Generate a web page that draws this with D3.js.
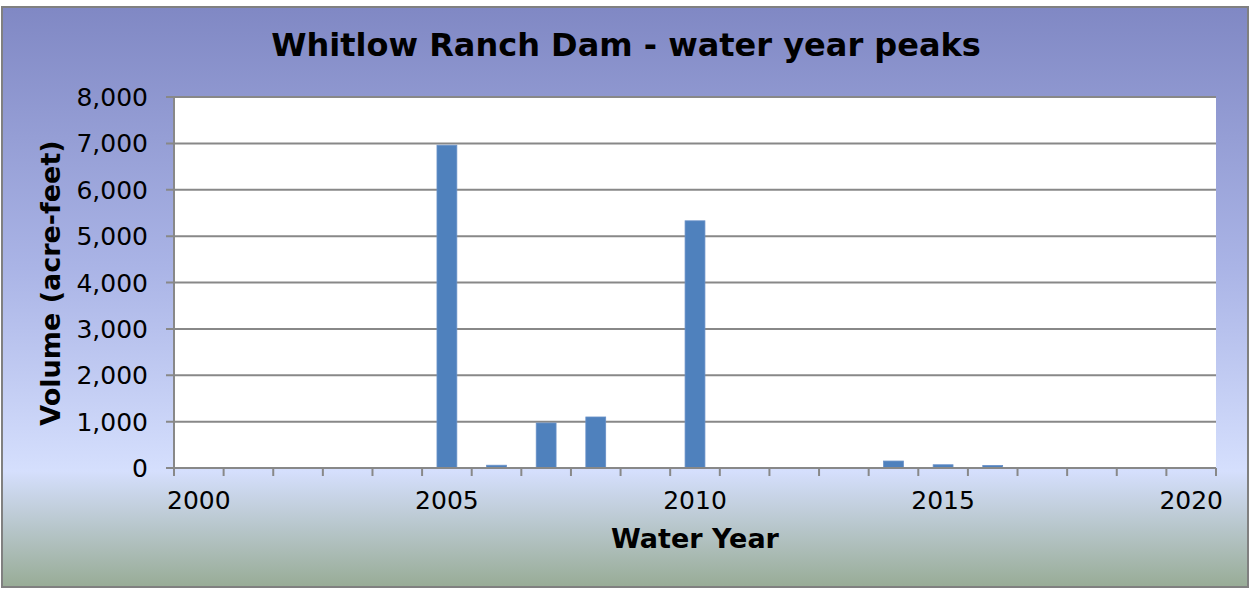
<!DOCTYPE html>
<html>
<head>
<meta charset="utf-8">
<script src="https://cdn.jsdelivr.net/npm/d3@7"></script>
<style>
  body { margin: 0; background: #fff; }
  svg text { font-family: "DejaVu Sans", sans-serif; fill: #000; }
</style>
</head>
<body>
<div id="chart"></div>
<script>
// water years and their peak volumes (acre-feet)
const years = d3.range(2000, 2021);
const peaks = [0, 0, 0, 0, 0, 6960, 60, 970, 1100, 0, 5330, 0, 0, 0, 150, 70, 55, 0, 0, 0, 0];
const yTicks = [0, 1000, 2000, 3000, 4000, 5000, 6000, 7000, 8000];
const xLabels = [2000, 2005, 2010, 2015, 2020];

const width = 1252, height = 592;
const margin = {top: 97, right: 36, bottom: 124, left: 174};

const svg = d3.select("#chart").append("svg")
  .attr("width", width)
  .attr("height", height);

// background gradient
const defs = svg.append("defs");
const grad = defs.append("linearGradient")
  .attr("id", "bg")
  .attr("x1", 0).attr("y1", 0).attr("x2", 0).attr("y2", 1);
grad.append("stop").attr("offset", "0%").attr("stop-color", "#8088c4");
grad.append("stop").attr("offset", "45%").attr("stop-color", "#aab4e6");
grad.append("stop").attr("offset", "80%").attr("stop-color", "#d5dffd");
grad.append("stop").attr("offset", "100%").attr("stop-color", "#98ac96");

svg.append("rect")
  .attr("x", 2).attr("y", 7)
  .attr("width", 1246).attr("height", 580)
  .attr("fill", "url(#bg)")
  .attr("stroke", "#808080")
  .attr("stroke-width", 2);

const x = d3.scaleBand()
  .domain(years)
  .range([margin.left, width - margin.right])
  .paddingInner(0.6)
  .paddingOuter(0.3);

// tick positions at band boundaries (category axis)
const step = x.step();
const x0 = margin.left;

const y = d3.scaleLinear()
  .domain([0, 8000])
  .range([height - margin.bottom, margin.top]);

// plot area
svg.append("rect")
  .attr("x", margin.left).attr("y", margin.top)
  .attr("width", width - margin.right - margin.left)
  .attr("height", height - margin.bottom - margin.top)
  .attr("fill", "#fff");

// gridlines
svg.append("g")
  .selectAll("line")
  .data(yTicks.filter(d => d > 0))
  .join("line")
  .attr("x1", margin.left - 8)
  .attr("x2", width - margin.right)
  .attr("y1", d => y(d))
  .attr("y2", d => y(d))
  .attr("stroke", "#888")
  .attr("stroke-width", 2);

// bars
svg.append("g")
  .selectAll("rect")
  .data(years.map((yr, i) => ({yr, v: peaks[i]})).filter(d => d.v > 0))
  .join("rect")
  .attr("x", d => x(d.yr))
  .attr("width", x.bandwidth())
  .attr("y", d => y(d.v))
  .attr("height", d => y(0) - y(d.v))
  .attr("fill", "#4f81bd")
  .attr("stroke", "#6890c8")
  .attr("stroke-width", 0.8);

// y axis
const yAxis = svg.append("g");
yAxis.append("line")
  .attr("x1", margin.left).attr("x2", margin.left)
  .attr("y1", margin.top).attr("y2", y(0))
  .attr("stroke", "#888").attr("stroke-width", 2);
yAxis.append("line")
  .attr("x1", margin.left - 8).attr("x2", margin.left)
  .attr("y1", y(0)).attr("y2", y(0))
  .attr("stroke", "#888").attr("stroke-width", 2);
yAxis.selectAll("text")
  .data(yTicks)
  .join("text")
  .attr("x", margin.left - 26)
  .attr("y", d => y(d) + 9)
  .attr("text-anchor", "end")
  .style("font-size", "25px")
  .text(d3.format(","));

// x axis
const xAxis = svg.append("g");
xAxis.append("line")
  .attr("x1", margin.left).attr("x2", width - margin.right)
  .attr("y1", y(0)).attr("y2", y(0))
  .attr("stroke", "#888").attr("stroke-width", 2);
xAxis.selectAll("line.tick")
  .data(d3.range(years.length + 1))
  .join("line")
  .attr("class", "tick")
  .attr("x1", i => x0 + i * step).attr("x2", i => x0 + i * step)
  .attr("y1", y(0)).attr("y2", y(0) + 8)
  .attr("stroke", "#888").attr("stroke-width", 2);
xAxis.selectAll("text")
  .data(xLabels)
  .join("text")
  .attr("x", d => x(d) + x.bandwidth() / 2)
  .attr("y", 509)
  .attr("text-anchor", "middle")
  .style("font-size", "25px")
  .text(d => d);

// titles
svg.append("text")
  .attr("x", 626).attr("y", 56)
  .attr("text-anchor", "middle")
  .style("font-size", "32px")
  .style("font-weight", "bold")
  .text("Whitlow Ranch Dam - water year peaks");

svg.append("text")
  .attr("x", 695).attr("y", 548)
  .attr("text-anchor", "middle")
  .style("font-size", "27px")
  .style("font-weight", "bold")
  .text("Water Year");

svg.append("text")
  .attr("transform", "translate(60,283) rotate(-90)")
  .attr("text-anchor", "middle")
  .style("font-size", "27px")
  .style("font-weight", "bold")
  .text("Volume (acre-feet)");
</script>
</body>
</html>
